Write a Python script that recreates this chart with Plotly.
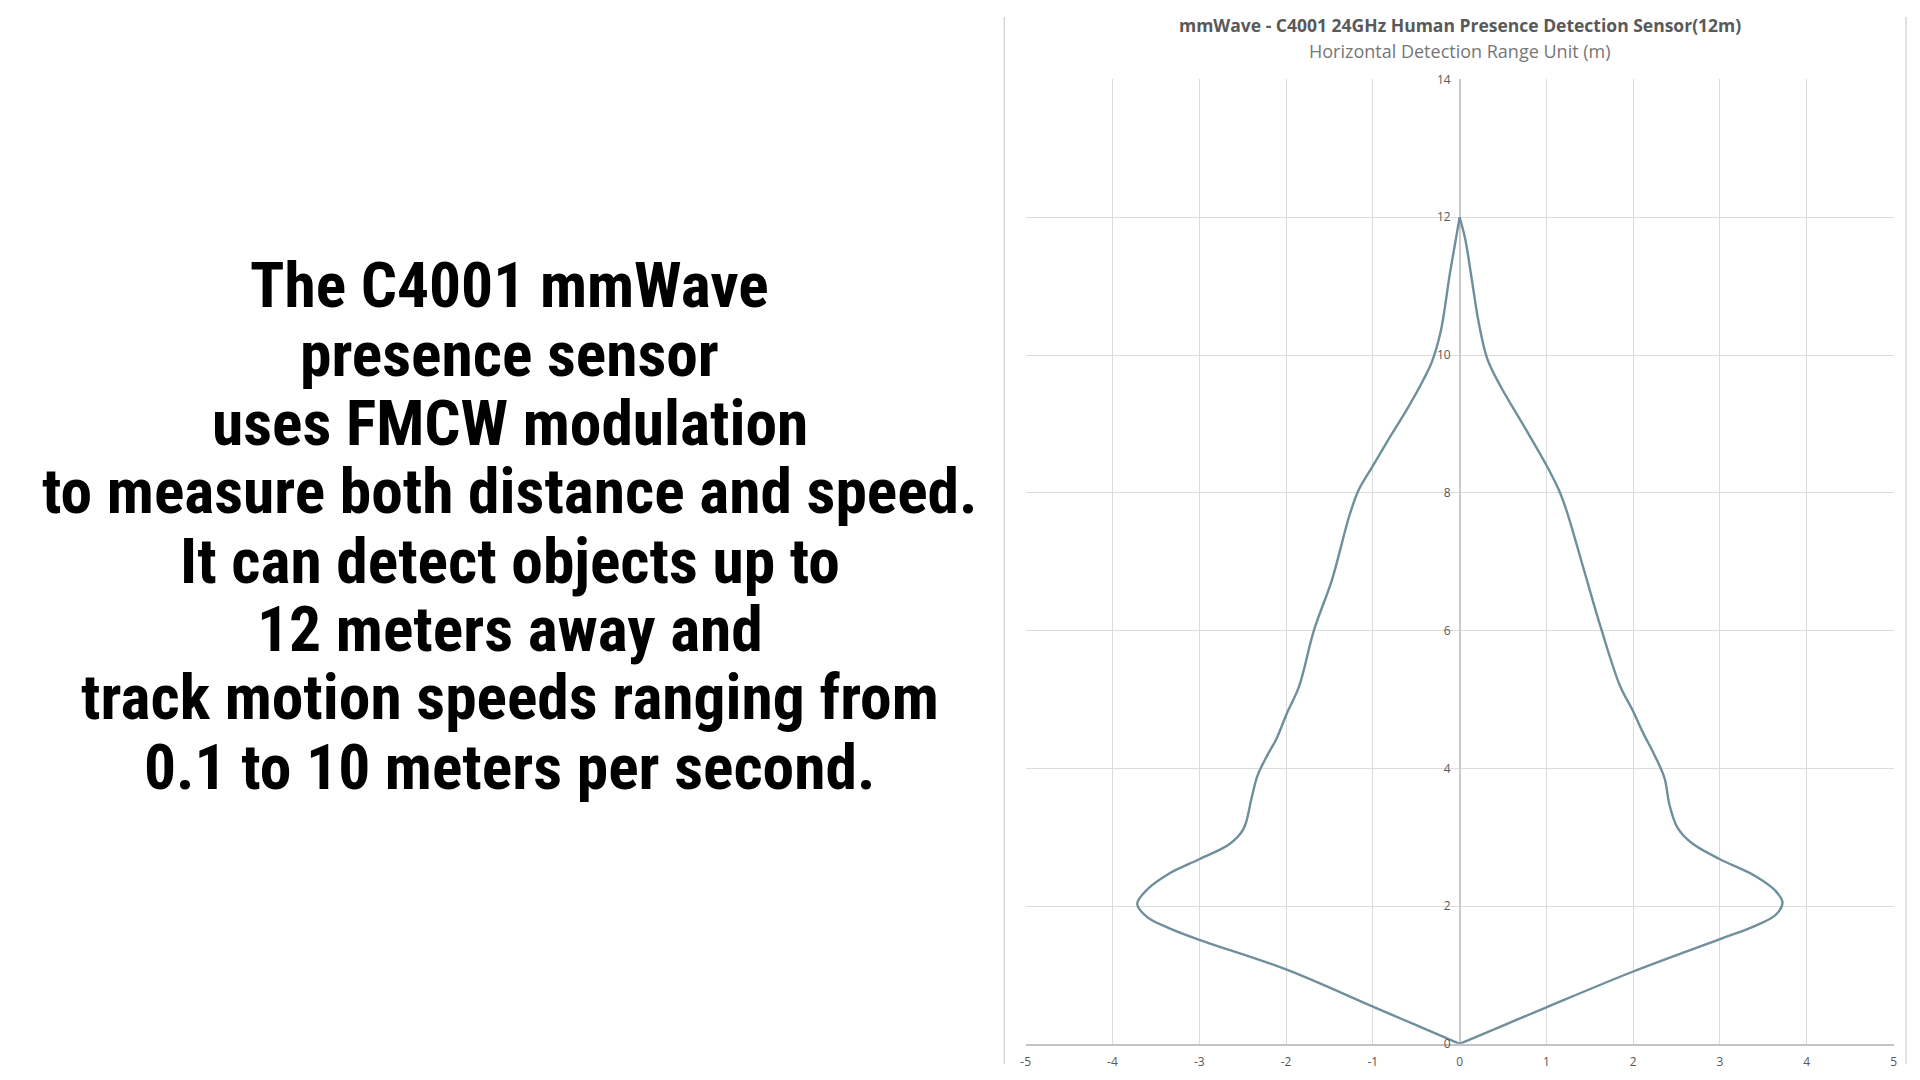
import plotly.graph_objects as go

# ---- data (horizontal detection range boundary, metres) ----
# right half: from the sensor (origin) out to the right lobe and up to the 12 m tip
right_x = [0.0, 0.5, 1.0, 2.0, 3.0, 3.4, 3.64, 3.72, 3.64, 3.4, 3.0, 2.67, 2.51, 2.42, 2.36,
           2.25, 2.12, 1.99, 1.85, 1.63, 1.43, 1.24, 1.14, 1.0, 0.74, 0.47, 0.32, 0.22,
           0.14, 0.065, 0.0]
right_y = [0.0, 0.265, 0.53, 1.05, 1.52, 1.71, 1.87, 2.05, 2.22, 2.44, 2.68, 2.92, 3.14, 3.46,
           3.86, 4.18, 4.5, 4.85, 5.19, 6.03, 6.89, 7.71, 8.05, 8.40, 8.97, 9.55, 9.94, 10.47,
           11.10, 11.68, 12.0]
# left half: from the 12 m tip down through the left lobe back to the origin
left_x = [0.0, -0.03, -0.11, -0.22, -0.32, -0.41, -0.58, -0.85, -1.01,
          -1.16, -1.27, -1.47, -1.68, -1.85, -1.99, -2.11, -2.22, -2.33, -2.40, -2.49,
          -2.65, -3.0, -3.35, -3.6, -3.715, -3.6, -3.35, -3.0, -2.0, -1.0, -0.5, 0.0]
left_y = [12.0, 11.78, 11.2, 10.33, 9.9, 9.66, 9.27, 8.71, 8.37,
          8.05, 7.67, 6.74, 6.0, 5.19, 4.80, 4.43, 4.18, 3.89, 3.55, 3.12,
          2.90, 2.68, 2.47, 2.24, 2.03, 1.84, 1.68, 1.51, 1.08, 0.54, 0.27, 0.0]

x_ticks = [-5, -4, -3, -2, -1, 0, 1, 2, 3, 4, 5]
y_ticks = [0, 2, 4, 6, 8, 10, 12, 14]

chart_title = "mmWave - C4001 24GHz Human Presence Detection Sensor(12m)"
chart_subtitle = "Horizontal Detection Range Unit (m)"

text_lines = [
    "The C4001 mmWave",
    "presence sensor",
    "uses FMCW modulation",
    "to measure both distance and speed.",
    "It can detect objects up to",
    "12 meters away and",
    "track motion speeds ranging from",
    "0.1 to 10 meters per second.",
]

# the page body keeps its default margin, so the figure is a little smaller than the window
W, H = 1904, 1064


def px(v):
    return v / W


def py(v):
    return (H - v) / H


xdom = [px(1017.5), px(1889.5)]
ydom = [py(1043.5), py(63.5)]

line_style = dict(color="#6f8f9c", width=2.4, shape="spline", smoothing=1.0)

fig = go.Figure()
fig.add_trace(go.Scatter(x=right_x, y=right_y, mode="lines", line=line_style,
                         hoverinfo="skip", showlegend=False))
fig.add_trace(go.Scatter(x=left_x, y=left_y, mode="lines", line=line_style,
                         hoverinfo="skip", showlegend=False))

tick_font = dict(family="Open Sans, Liberation Sans, sans-serif", size=12, color="#595959")

fig.update_layout(
    width=W, height=H,
    margin=dict(l=0, r=0, t=0, b=0),
    paper_bgcolor="white", plot_bgcolor="white",
    showlegend=False,
    xaxis=dict(
        domain=xdom, range=[-5, 5], tickvals=x_ticks, ticktext=[str(v) for v in x_ticks],
        showgrid=True, gridcolor="#dcdcdc", gridwidth=1.3,
        zeroline=True, zerolinecolor="#cacaca", zerolinewidth=1.5,
        showline=True, linecolor="#c4c4c4", linewidth=1.5,
        ticks="", tickfont=tick_font, ticklabelstandoff=6, fixedrange=True,
    ),
    yaxis=dict(
        domain=ydom, range=[0, 14], tickvals=y_ticks, ticktext=[str(v) for v in y_ticks],
        anchor="free", position=(xdom[0] + xdom[1]) / 2,
        showgrid=True, gridcolor="#dcdcdc", gridwidth=1.3,
        zeroline=False, showline=False,
        ticks="", tickfont=tick_font, ticklabelstandoff=9, fixedrange=True,
    ),
)

# chart frame (side edges; the top and bottom edges fall outside the drawable page area)
for fxp in (996, 1902):
    fig.add_shape(type="line", xref="paper", yref="paper",
                  x0=px(fxp), x1=px(fxp), y0=0, y1=1,
                  line=dict(color="#d9d9d9", width=1.5), layer="below")

# titles
cx = (xdom[0] + xdom[1]) / 2
fig.add_annotation(x=cx, y=py(8), xref="paper", yref="paper", text=chart_title,
                   showarrow=False, xanchor="center", yanchor="middle",
                   font=dict(family="Open Sans, Liberation Sans, sans-serif", size=17.5,
                             color="#595959", weight="bold"))
fig.add_annotation(x=cx, y=py(34.5), xref="paper", yref="paper", text=chart_subtitle,
                   showarrow=False, xanchor="center", yanchor="middle",
                   font=dict(family="Open Sans, Liberation Sans, sans-serif", size=18,
                             color="#767676"))

# left text block
line_y = [273, 343, 413, 482, 553.5, 622.5, 692, 763]
for txt, yy in zip(text_lines, line_y):
    fig.add_annotation(x=px(499), y=py(yy), xref="paper", yref="paper", text=txt,
                       showarrow=False, xanchor="center", yanchor="middle",
                       font=dict(family="Roboto Condensed, Liberation Sans Narrow, Lato, sans-serif",
                                 size=63.5, color="#000000", weight="bold"))

fig.write_html("out.html", config={"displayModeBar": False})
